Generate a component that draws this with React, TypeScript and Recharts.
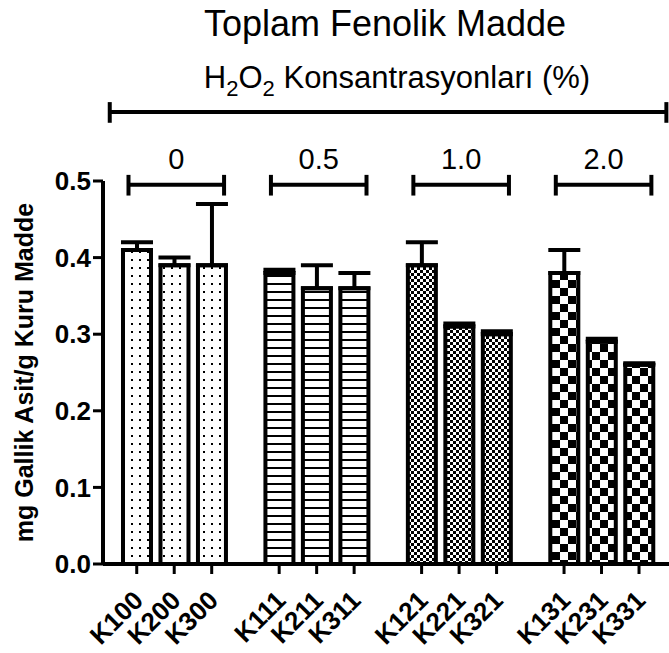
import React from 'react';
import {
  BarChart,
  Bar,
  XAxis,
  YAxis,
  ErrorBar,
  Cell,
  ReferenceLine
} from 'recharts';

// H2O2 concentration groups (%)
const groups = ['0', '0.5', '1.0', '2.0'];
const samples = ['K100', 'K200', 'K300', 'K111', 'K211', 'K311', 'K121', 'K221', 'K321', 'K131', 'K231', 'K331'];
const means = [0.41, 0.39, 0.39, 0.38, 0.36, 0.36, 0.39, 0.31, 0.30, 0.38, 0.29, 0.26];
const errors = [0.01, 0.01, 0.08, 0.004, 0.03, 0.02, 0.03, 0.004, 0.004, 0.03, 0.004, 0.002];
const yTicks = [0, 0.1, 0.2, 0.3, 0.4, 0.5];
const patternIds = ['dots', 'stripes', 'checkFine', 'checkCoarse'];

const PER_GROUP = 3;
const GROUP_STEP = 3.8; // a bit of a gap between the groups
const FONT = 'Arial, "Liberation Sans", Helvetica, sans-serif';

const data = samples.map((name, i) => {
  const g = Math.floor(i / PER_GROUP);
  return {
    name,
    x: g * GROUP_STEP + (i % PER_GROUP),
    group: g,
    value: means[i],
    err: [0, errors[i]], // only the upper half is drawn, like GraphPad
  };
});

const XTick = (props: any) => {
  const { x, y, payload } = props;
  const d = data.find((row) => Math.abs(row.x - payload.value) < 1e-6);
  const ax = x + 8;
  const ay = y + 26;
  return (
    <text
      x={ax}
      y={ay}
      textAnchor="end"
      transform={`rotate(-45 ${ax} ${ay})`}
      fontSize={26}
      fontWeight="bold"
      fontFamily={FONT}
      fill="#000"
    >
      {d ? d.name : ''}
    </text>
  );
};

const YLabel = (props: any) => {
  const { viewBox } = props;
  const cx = (viewBox?.x ?? 0) + 24;
  const cy = (viewBox?.y ?? 0) + (viewBox?.height ?? 0) / 2;
  return (
    <text
      x={cx}
      y={cy}
      transform={`rotate(-90 ${cx} ${cy})`}
      textAnchor="middle"
      dominantBaseline="central"
      fontSize={25}
      fontWeight="bold"
      fontFamily={FONT}
      fill="#000"
    >
      mg Gallik Asit/g Kuru Madde
    </text>
  );
};

export default function App() {
  const lineProps = { stroke: '#000', strokeWidth: 4, ifOverflow: 'visible' as const };

  return (
    <div style={{ position: 'relative', width: 669, height: 653, background: '#fff' }}>
      <style>{'body{margin:0}'}</style>
      <BarChart width={669} height={653} data={data} margin={{ top: 181, right: 0, bottom: 0, left: 0 }}>
        <defs>
          <pattern id="dots" width="8" height="8" patternUnits="userSpaceOnUse">
            <rect width="8" height="8" fill="#fff" />
            <rect x="3" y="3" width="2" height="2" fill="#000" />
          </pattern>
          <pattern id="stripes" width="8" height="8" patternUnits="userSpaceOnUse">
            <rect width="8" height="8" fill="#fff" />
            <rect x="0" y="3" width="8" height="2" fill="#000" />
          </pattern>
          <pattern id="checkFine" width="6" height="6" patternUnits="userSpaceOnUse">
            <rect width="6" height="6" fill="#fff" />
            <rect x="0" y="0" width="3" height="3" fill="#000" />
            <rect x="3" y="3" width="3" height="3" fill="#000" />
          </pattern>
          <pattern id="checkCoarse" width="16" height="16" patternUnits="userSpaceOnUse">
            <rect width="16" height="16" fill="#fff" />
            <rect x="0" y="0" width="8" height="8" fill="#000" />
            <rect x="8" y="8" width="8" height="8" fill="#000" />
          </pattern>
        </defs>

        <XAxis
          type="number"
          dataKey="x"
          domain={[-0.9, 14.2]}
          ticks={data.map((d) => d.x)}
          interval={0}
          height={89}
          axisLine={{ stroke: '#000', strokeWidth: 4 }}
          tickLine={{ stroke: '#000', strokeWidth: 3 }}
          tickSize={10}
          tick={<XTick />}
        />
        <YAxis
          domain={[0, 0.5]}
          ticks={yTicks}
          width={103}
          axisLine={{ stroke: '#000', strokeWidth: 4 }}
          tickLine={{ stroke: '#000', strokeWidth: 3 }}
          tickSize={10}
          tickMargin={2}
          tickFormatter={(v: number) => v.toFixed(1)}
          tick={{ fontSize: 26, fontWeight: 'bold', fontFamily: FONT, fill: '#000' }}
          label={<YLabel />}
        />

        <Bar dataKey="value" barSize={28} stroke="#000" strokeWidth={4} isAnimationActive={false}>
          {data.map((d) => (
            <Cell key={d.name} fill={`url(#${patternIds[d.group]})`} />
          ))}
          <ErrorBar dataKey="err" direction="y" width={16} stroke="#000" strokeWidth={4} isAnimationActive={false} />
        </Bar>

        {/* bracket over all concentrations */}
        <ReferenceLine segment={[{ x: -0.72, y: 0.59 }, { x: 14.13, y: 0.59 }]} {...lineProps} />
        <ReferenceLine segment={[{ x: -0.72, y: 0.576 }, { x: -0.72, y: 0.603 }]} {...lineProps} />
        <ReferenceLine segment={[{ x: 14.13, y: 0.576 }, { x: 14.13, y: 0.603 }]} {...lineProps} />

        {/* one bracket per concentration group */}
        {groups.map((g, gi) => {
          const x0 = gi * GROUP_STEP - 0.22;
          const x1 = gi * GROUP_STEP + 2.33;
          return (
            <React.Fragment key={g}>
              <ReferenceLine
                segment={[{ x: x0, y: 0.495 }, { x: x1, y: 0.495 }]}
                {...lineProps}
                label={{ value: g, position: 'top', offset: 16, fontSize: 29, fill: '#000', fontFamily: FONT }}
              />
              <ReferenceLine segment={[{ x: x0, y: 0.481 }, { x: x0, y: 0.508 }]} {...lineProps} />
              <ReferenceLine segment={[{ x: x1, y: 0.481 }, { x: x1, y: 0.508 }]} {...lineProps} />
            </React.Fragment>
          );
        })}
      </BarChart>

      <svg width={669} height={120} style={{ position: 'absolute', left: 0, top: 0, pointerEvents: 'none' }}>
        <text x={385} y={36} textAnchor="middle" fontSize={36} fontFamily={FONT} fill="#000">
          Toplam Fenolik Madde
        </text>
        <text x={397} y={88} textAnchor="middle" fontSize={31} fontFamily={FONT} fill="#000">
          H<tspan fontSize={22} dy={8}>2</tspan>
          <tspan dy={-8}>O</tspan>
          <tspan fontSize={22} dy={8}>2</tspan>
          <tspan dy={-8}> Konsantrasyonları (%)</tspan>
        </text>
      </svg>
    </div>
  );
}
